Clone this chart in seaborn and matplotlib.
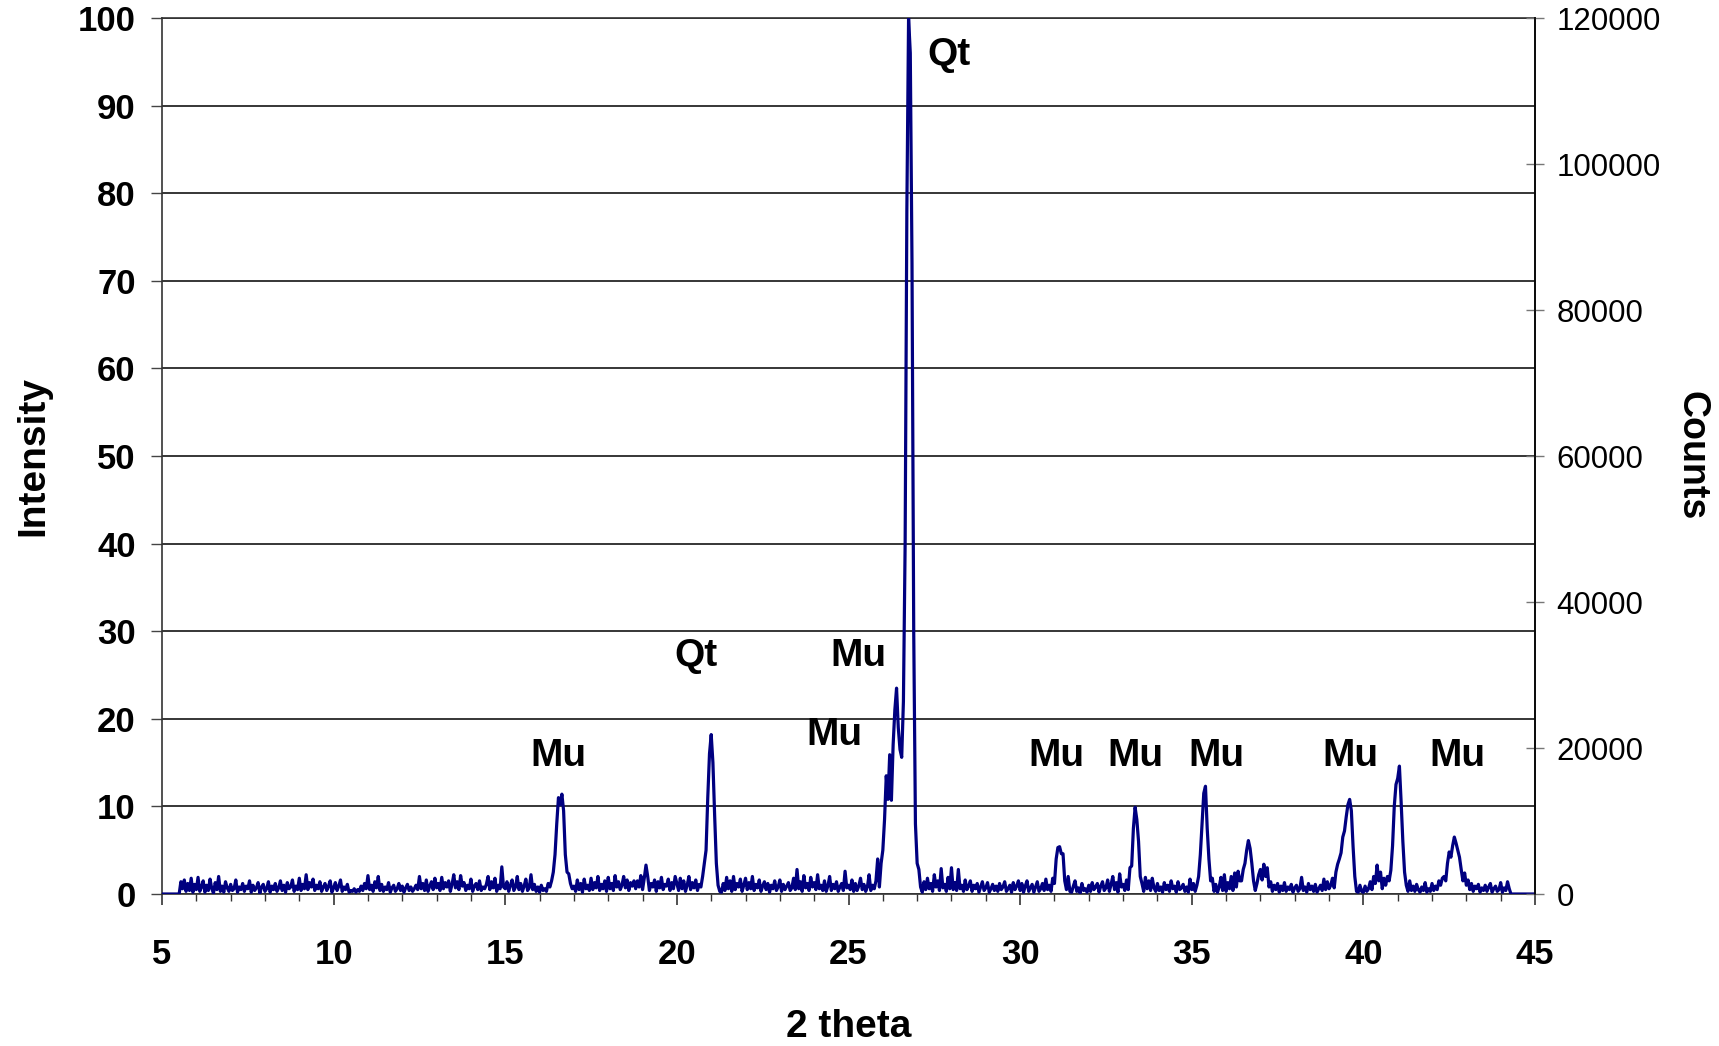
import numpy as np
import matplotlib.pyplot as plt
from matplotlib.ticker import MultipleLocator
import seaborn as sns

# Scan grid: 5.00 to 45.00 deg 2theta in 0.05 deg steps
step = 0.05
two_theta = np.round(5.0 + step * np.arange(801), 2)

# Intensity (%), one list per 5 degree block
block_05 = [0, 0, 0, 0, 0, 0, 0, 0, 0, 0, 0, 1.4, 0.6, 1.6, 0.3, 1.2, 0.4, 1.8, 0.2, 1.1,
            0.5, 1.9, 0.3, 0.8, 1.5, 0.2, 1.0, 0.4, 1.7, 0.6,
            0.1, 1.3, 0.5, 2.0, 0.3, 0.9, 0.2, 1.4, 0.7, 0.3,
            1.1, 0.4, 0.6, 1.6, 0.2, 0.8, 0.5, 1.2, 0.3, 0.9,
            0.6, 1.5, 0.2, 1.0, 0.4, 0.7, 1.3, 0.1, 0.8, 1.1,
            0.3, 0.6, 1.4, 0.2, 0.9, 0.5, 1.2, 0.3, 0.7, 1.5,
            0.4, 1.0, 0.2, 1.3, 0.6, 0.8, 1.6, 0.3, 0.9, 0.5,
            1.8, 0.4, 1.1, 0.6, 2.2, 0.5, 1.3, 0.8, 1.7, 0.4,
            1.0, 0.6, 1.4, 0.3, 0.8, 1.2, 0.4, 0.9, 1.5, 0.2]
block_10 = [0.7, 1.3, 0.4, 0.9, 1.6, 0.3, 0.8, 0.5, 1.1, 0.2,
            0.4, 0.3, 0.6, 0.2, 0.5, 0.3, 0.9, 0.4, 1.2, 0.6,
            2.1, 0.5, 1.0, 0.3, 1.4, 0.7, 2.0, 0.4, 1.1, 0.3,
            0.8, 0.5, 1.3, 0.2, 0.7, 1.0, 0.3, 0.6, 1.2, 0.4,
            0.9, 0.2, 0.7, 1.1, 0.4, 0.8, 0.3, 0.6, 1.0, 0.5,
            2.0, 0.6, 1.2, 0.4, 1.6, 0.3, 0.9, 1.4, 0.5, 1.8,
            0.7, 1.2, 0.4, 1.9, 0.6, 1.3, 0.8, 1.5, 0.3, 1.1,
            2.2, 0.7, 1.4, 0.5, 2.1, 0.9, 1.3, 0.4, 1.0, 0.6,
            1.7, 0.3, 0.9, 1.2, 0.5, 1.5, 0.4, 0.8, 0.6, 1.1,
            2.0, 0.5, 1.4, 0.7, 1.8, 0.3, 1.0, 0.6, 3.1, 0.8]
block_15 = [0.6, 1.4, 0.3, 1.0, 1.6, 0.4, 0.8, 2.0, 0.5, 1.2,
            0.3, 0.9, 1.7, 0.4, 0.7, 2.2, 0.5, 1.1, 0.3, 0.8,
            0.2, 1.0, 0.4, 0.6, 0.3, 1.2, 0.8, 1.5, 2.5, 4.5,
            8.0, 11.0, 10.2, 11.4, 9.5, 4.5, 2.5, 2.3, 1.2, 0.6,
            0.9, 0.3, 1.6, 0.5, 1.2, 0.2, 1.7, 0.6, 1.0, 0.4,
            1.8, 0.5, 1.3, 0.7, 2.0, 0.4, 1.1, 0.6, 1.5, 0.3,
            1.9, 0.6, 1.2, 0.4, 2.1, 0.8, 1.4, 0.5, 1.0, 2.0,
            0.7, 1.6, 0.4, 1.3, 0.9, 1.5, 0.6, 1.5, 0.8, 2.1,
            0.5, 1.8, 3.3, 2.0, 0.4, 1.2, 0.8, 1.6, 0.3, 1.4,
            0.7, 1.9, 0.5, 1.1, 0.9, 1.7, 0.4, 1.3, 0.6, 2.0]
block_20 = [1.2, 0.4, 1.8, 0.6, 1.5, 0.3, 1.0, 2.0, 0.5, 1.3,
            0.7, 1.6, 0.4, 1.1, 0.8, 2.0, 3.5, 5.0, 11.0, 16.0,
            18.2, 15.0, 9.0, 3.5, 1.0, 0.3, 0.2, 1.2, 0.4, 1.9,
            0.6, 1.5, 0.3, 2.0, 0.5, 1.2, 0.8, 1.7, 0.3, 1.0,
            1.8, 0.5, 1.3, 0.6, 2.0, 0.4, 1.1, 0.7, 1.6, 0.3,
            0.9, 1.4, 0.5, 1.2, 0.2, 1.0, 0.6, 1.5, 0.4, 0.8,
            1.6, 0.3, 1.1, 0.5, 0.9, 1.3, 0.4, 0.7, 1.8, 0.5,
            2.8, 0.6, 1.4, 0.3, 2.1, 0.7, 1.2, 0.4, 1.9, 0.8,
            1.3, 0.5, 2.2, 0.6, 1.0, 0.4, 1.5, 0.3, 0.9, 2.0,
            0.4, 1.1, 0.6, 1.4, 0.3, 0.8, 1.2, 0.4, 2.6, 0.7]
block_25 = [1.0, 0.5, 1.6, 0.3, 1.2, 0.4, 0.9, 1.8, 0.5, 1.1,
            0.3, 0.8, 2.2, 0.4, 1.0, 0.6, 1.5, 4.0, 0.8, 3.5,
            5.0, 8.5, 13.5, 10.8, 15.9, 10.7, 17.0, 21.0, 23.5, 19.0,
            16.5, 15.6, 22.0, 40.0, 78.0, 100.0, 96.0, 72.0, 30.0, 8.0,
            3.5, 2.8, 0.8, 0.2, 1.4, 0.5, 1.8, 0.6, 1.2, 0.3,
            2.2, 0.8, 1.5, 0.4, 2.9, 0.7, 1.1, 0.3, 1.9, 0.6,
            3.0, 0.5, 1.3, 0.4, 2.8, 0.6, 1.0, 0.3, 1.6, 0.5,
            0.9, 1.5, 0.3, 1.0, 0.6, 1.2, 0.2, 0.8, 1.4, 0.4,
            0.7, 1.3, 0.2, 0.6, 1.1, 0.4, 0.9, 0.3, 1.2, 0.5,
            0.8, 1.4, 0.3, 0.6, 1.0, 0.2, 1.3, 0.5, 0.9, 1.5]
block_30 = [0.4, 1.2, 0.2, 0.9, 1.5, 0.3, 0.7, 1.1, 0.2, 0.8,
            1.4, 0.3, 0.6, 1.2, 0.4, 1.7, 0.5, 1.0, 0.3, 1.8,
            1.2, 4.0, 5.3, 5.4, 4.6, 4.6, 1.5, 0.5, 2.0, 0.3,
            0.2, 0.9, 1.5, 0.3, 0.7, 0.1, 1.2, 0.4, 0.6, 0.2,
            1.0, 0.3, 1.3, 0.5, 0.8, 1.2, 0.2, 0.9, 1.4, 0.4,
            0.7, 1.6, 0.3, 1.1, 2.0, 0.5, 1.3, 0.2, 2.3, 0.8,
            1.1, 0.4, 1.6, 0.5, 3.0, 3.2, 7.5, 9.9, 8.5, 6.0,
            2.0, 1.2, 0.3, 1.9, 0.6, 1.5, 0.4, 1.8, 0.7, 0.3,
            1.2, 0.4, 0.8, 0.2, 1.3, 0.5, 1.0, 0.3, 1.5, 0.6,
            0.9, 0.2, 1.4, 0.5, 0.7, 1.1, 0.3, 0.8, 0.2, 1.7]
block_35 = [0.5, 1.2, 0.3, 1.0, 2.0, 4.5, 8.0, 11.5, 12.3, 7.5,
            4.0, 1.5, 1.8, 0.3, 1.1, 0.2, 0.8, 1.9, 0.4, 2.2,
            0.3, 1.3, 0.6, 2.0, 0.4, 2.4, 0.8, 2.6, 1.5, 1.5,
            2.8, 3.5, 5.0, 6.1, 5.2, 3.5, 1.5, 0.4, 1.2, 2.2,
            2.8, 1.6, 3.4, 2.0, 3.0, 0.8, 1.4, 0.3, 1.0, 0.5,
            1.2, 0.2, 0.9, 0.4, 1.3, 0.3, 0.8, 0.5, 1.1, 0.2,
            0.7, 1.0, 0.3, 0.6, 1.9, 0.4, 0.8, 0.2, 1.2, 0.5,
            0.9, 0.3, 1.1, 0.2, 0.6, 1.0, 0.4, 1.7, 0.5, 1.4,
            0.6, 1.0, 1.8, 0.7, 2.5, 3.4, 4.0, 4.7, 6.5, 7.2,
            8.8, 10.2, 10.8, 9.5, 5.4, 2.0, 0.3, 0.2, 1.0, 0.3]
block_40 = [0.2, 0.9, 0.3, 0.6, 1.4, 0.5, 2.0, 1.2, 3.3, 1.5,
            2.5, 0.6, 1.8, 1.0, 2.0, 1.5, 2.7, 5.5, 10.0, 12.5,
            13.2, 14.6, 10.5, 6.0, 2.5, 1.0, 0.3, 1.5, 0.4, 0.9,
            0.3, 1.1, 0.5, 0.2, 0.8, 0.4, 1.3, 0.2, 0.6, 0.3,
            1.2, 0.4, 0.9, 0.5, 1.5, 1.0, 1.8, 2.0, 1.5, 3.5,
            4.8, 4.2, 5.5, 6.5, 5.8, 5.0, 4.2, 2.8, 1.5, 2.4,
            1.0, 1.6, 0.5, 1.2, 0.3, 0.9, 0.6, 1.1, 0.2, 0.7,
            0.4, 1.0, 0.3, 0.8, 1.2, 0.2, 0.6, 0.9, 0.3, 0.5,
            1.3, 0.2, 0.7, 0.4, 1.4, 0.6, 0, 0, 0, 0,
            0, 0, 0, 0, 0, 0, 0, 0, 0, 0]
end_value = [0]

intensity = np.array(block_05 + block_10 + block_15 + block_20 + block_25
                     + block_30 + block_35 + block_40 + end_value)

# Phase labels
label_names = ['Mu', 'Qt', 'Mu', 'Mu', 'Qt', 'Mu', 'Mu', 'Mu', 'Mu', 'Mu']
label_x = [16.56, 20.56, 25.28, 24.6, 27.93, 31.07, 33.37, 35.73, 39.63, 42.75]
label_y = [15.7, 27.2, 27.2, 18.2, 95.8, 15.7, 15.8, 15.8, 15.7, 15.8]

sns.set_style('white')
plt.rcParams['font.family'] = ['Liberation Sans', 'DejaVu Sans']
plt.rcParams['text.color'] = 'black'
plt.rcParams['axes.labelcolor'] = 'black'
plt.rcParams['xtick.color'] = 'black'
plt.rcParams['ytick.color'] = 'black'

fig = plt.figure(figsize=(17.19, 10.46), dpi=100)
ax = fig.add_axes([162 / 1719, 1 - 894 / 1046, 1373 / 1719, 876 / 1046])

sns.lineplot(x=two_theta, y=intensity, ax=ax, color='#000080', lw=2.3, zorder=3)

ax.set_xlim(5, 45)
ax.set_ylim(0, 100)
ax.xaxis.set_major_locator(MultipleLocator(5))
ax.xaxis.set_minor_locator(MultipleLocator(1))
ax.yaxis.set_major_locator(MultipleLocator(10))
ax.yaxis.grid(True, color='black', lw=1.1)
ax.set_axisbelow(True)

ax.tick_params(axis='x', which='major', direction='out', length=8, width=1.2,
               color='#333333', labelcolor='black', pad=24, labelsize=25, bottom=True)
ax.tick_params(axis='x', which='minor', direction='out', length=5, width=1.0,
               color='#333333', bottom=True)
ax.tick_params(axis='y', direction='out', length=8, width=1.0, color='#444444',
               labelcolor='black', pad=11, labelsize=25, left=True)
for lab in ax.get_xticklabels() + ax.get_yticklabels():
    lab.set_fontweight('bold')

for side in ['left', 'bottom', 'top', 'right']:
    ax.spines[side].set_color('#333333')
    ax.spines[side].set_linewidth(1.2)

ax.set_xlabel('2 theta', fontsize=28, fontweight='bold', va='center', color='black')
ax.xaxis.set_label_coords(0.5, -0.152)
ax.set_ylabel('Intensity', fontsize=28, fontweight='bold', va='center', color='black')
ax.yaxis.set_label_coords(-0.094, 0.5)

for name, lx, ly in zip(label_names, label_x, label_y):
    ax.text(lx, ly, name, ha='center', va='center', fontsize=28,
            fontweight='bold', color='black', zorder=4)

# Secondary counts axis
ax2 = ax.twinx()
ax2.set_ylim(0, 120000)
ax2.yaxis.set_major_locator(MultipleLocator(20000))
ax2.tick_params(axis='y', direction='inout', length=13, width=1.0, color='#777777',
                labelcolor='black', pad=9, labelsize=22.5, right=True)
ax2.grid(False)
for side in ['left', 'bottom', 'top']:
    ax2.spines[side].set_visible(False)
ax2.spines['right'].set_color('black')
ax2.spines['right'].set_linewidth(1.2)
ax2.set_ylabel('Counts', fontsize=27, fontweight='bold', rotation=270,
               va='center', ha='center', color='black')
ax2.yaxis.set_label_coords(1.114, 0.5)

fig.savefig('out.png', dpi=100)
